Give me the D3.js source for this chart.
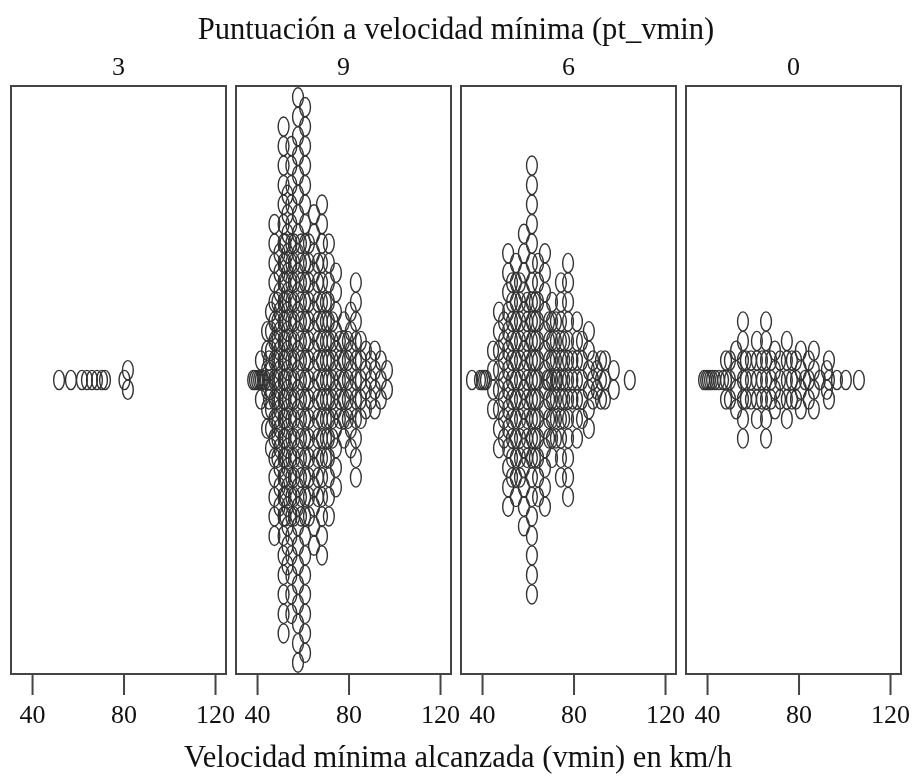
<!doctype html>
<html>

<head>
    <meta charset="utf-8">
    <script src="https://d3js.org/d3.v7.min.js"></script>
    <style>
        html, body { margin: 0; padding: 0; background: #fff; }
        svg { display: block; filter: blur(0.5px); }
        text { font-family: "Liberation Serif", serif; fill: #111; }
    </style>
</head>

<body>

    <div id="chart"></div>

    <script>
        var mainTitle = "Puntuación a velocidad mínima (pt_vmin)";
        var xTitle = "Velocidad mínima alcanzada (vmin) en km/h";
        var panelNames = ["3", "9", "6", "0"];
        var tickValues = [40, 80, 120];

        // each column of the swarm: speed in km/h and how many points are stacked on it
        var speeds3 = [51.8, 57, 61.8, 64, 66.2, 68.4, 70.6, 71.9, 80.4, 81.9];
        var counts3 = [1, 1, 1, 1, 1, 1, 1, 1, 1, 2];

        var speeds9 = [38.3, 39.1, 40, 40.9, 41.7, 42.6, 43.5, 44.4, 45.2, 46.1, 47.6, 48.9, 49.8, 51.6, 52.4, 53.3, 55, 56.2, 57.9, 59.2, 61, 62.7, 64.9, 66.6, 68.4, 70.1, 71.4, 73, 74.5, 76.2, 78, 79.7, 81, 83.2, 85.4, 87.6, 89.8, 91.5, 94.1, 96.8];
        var counts9 = [1, 1, 1, 1, 3, 1, 1, 6, 3, 8, 17, 9, 14, 27, 15, 20, 25, 15, 30, 15, 29, 15, 18, 13, 19, 9, 15, 7, 12, 5, 7, 5, 8, 11, 5, 4, 3, 4, 3, 2];

        var speeds6 = [35.6, 39.1, 40, 40.9, 41.7, 44.8, 47.4, 49.6, 51.4, 53.1, 54.8, 56.6, 58.3, 59.7, 61.8, 63.1, 64.5, 67.5, 68.4, 69.3, 70.6, 72.3, 72.8, 74.5, 75.9, 77.6, 79.5, 81.5, 83.7, 86.7, 88.5, 90.2, 92, 93.7, 97.6, 104.6];
        var counts6 = [1, 1, 1, 1, 1, 4, 8, 7, 14, 11, 13, 11, 16, 9, 23, 9, 13, 14, 1, 7, 9, 7, 1, 11, 5, 13, 3, 7, 5, 6, 3, 2, 3, 3, 2, 1];

        var speeds0 = [38.7, 39.6, 40.4, 41.3, 42.2, 43.5, 45.2, 47, 48.3, 50, 52.7, 55.7, 57, 59.2, 61.8, 64, 65.8, 68, 69.7, 71.9, 74.9, 77.1, 78.9, 81, 82.8, 84.5, 86.7, 89.3, 92.4, 93.3, 96.8, 100.7, 106.4];
        var counts0 = [1, 1, 1, 1, 1, 1, 1, 1, 3, 3, 4, 7, 3, 3, 5, 3, 7, 3, 4, 3, 5, 3, 3, 4, 1, 3, 4, 1, 2, 3, 1, 1, 1];

        var panelSpeeds = [speeds3, speeds9, speeds6, speeds0];
        var panelCounts = [counts3, counts9, counts6, counts0];

        var width = 913, chartHeight = 776;
        var plotTop = 86, plotBottom = 674;
        var panelWidth = 215, panelStep = 225, firstLeft = 11;

        var svg = d3.select("#chart").append("svg")
            .attr("width", width)
            .attr("height", chartHeight);

        // rows of the stack, 0 is the middle line of a panel
        var y = d3.scaleLinear().domain([-15.08, 15.08]).range([plotBottom, plotTop]);

        panelNames.forEach(function (name, p) {
            var left = firstLeft + p * panelStep;
            var x = d3.scaleLinear().domain([30.8, 124.8]).range([0, panelWidth]);

            var g = svg.append("g").attr("transform", "translate(" + left + ",0)");

            // expand columns into single points
            var points = [];
            panelSpeeds[p].forEach(function (s, i) {
                var n = panelCounts[p][i];
                d3.range(n).forEach(function (k) {
                    points.push({ speed: s, row: k - (n - 1) / 2 });
                });
            });

            g.selectAll(".dot")
                .data(points)
                .enter().append("ellipse")
                .attr("class", "dot")
                .attr("cx", function (d) { return x(d.speed); })
                .attr("cy", function (d) { return y(d.row); })
                .attr("rx", 5.4)
                .attr("ry", 9.6)
                .attr("fill", "none")
                .attr("stroke", "#333")
                .attr("stroke-width", 1.4);

            g.append("rect")
                .attr("x", 0)
                .attr("y", plotTop)
                .attr("width", panelWidth)
                .attr("height", plotBottom - plotTop)
                .attr("fill", "none")
                .attr("stroke", "#444")
                .attr("stroke-width", 2);

            var axis = d3.axisBottom(x)
                .tickValues(tickValues)
                .tickSize(21)
                .tickPadding(10)
                .tickSizeOuter(0);

            var ax = g.append("g")
                .attr("transform", "translate(0," + plotBottom + ")")
                .call(axis);
            ax.select(".domain").remove();
            ax.selectAll("line").attr("stroke", "#444").attr("stroke-width", 2);
            ax.selectAll("text")
                .style("font-family", '"Liberation Serif", serif')
                .style("font-size", "26px")
                .attr("fill", "#111");

            g.append("text")
                .attr("x", panelWidth / 2)
                .attr("y", 75)
                .attr("text-anchor", "middle")
                .style("font-size", "26px")
                .text(name);
        });

        svg.append("text")
            .attr("x", 456)
            .attr("y", 39)
            .attr("text-anchor", "middle")
            .style("font-size", "30.6px")
            .text(mainTitle);

        svg.append("text")
            .attr("x", 458)
            .attr("y", 767)
            .attr("text-anchor", "middle")
            .style("font-size", "30.5px")
            .text(xTitle);
    </script>
</body>

</html>
